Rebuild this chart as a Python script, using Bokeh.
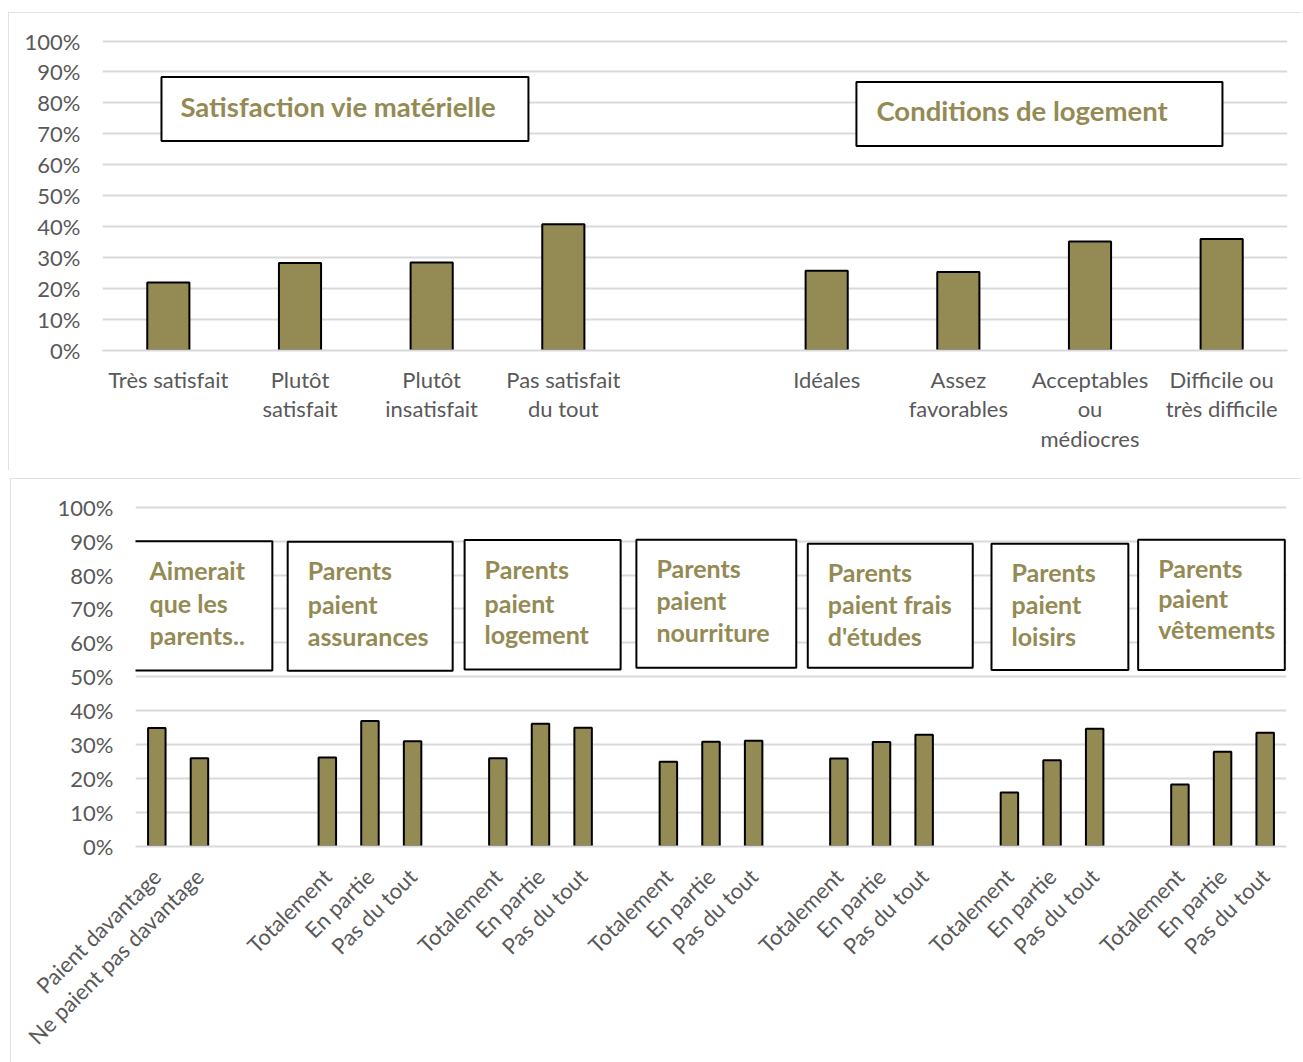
import math
from bokeh.plotting import figure
from bokeh.models import FixedTicker, NumeralTickFormatter, Range1d, BoxAnnotation, Label
from bokeh.embed import file_html
from bokeh.resources import INLINE

# ---------------- data ----------------
top_labels = ["Très satisfait", "Plutôt\nsatisfait", "Plutôt\ninsatisfait", "Pas satisfait\ndu tout", "",
              "Idéales", "Assez\nfavorables", "Acceptables\nou\nmédiocres", "Difficile ou\ntrès difficile"]
top_values = [0.22, 0.283, 0.284, 0.408, None, 0.258, 0.254, 0.352, 0.360]
top_titles = ["Satisfaction vie matérielle", "Conditions de logement"]

bottom_labels = ["Paient davantage", "Ne paient pas davantage", "", "",
                 "Totalement", "En partie", "Pas du tout", "",
                 "Totalement", "En partie", "Pas du tout", "",
                 "Totalement", "En partie", "Pas du tout", "",
                 "Totalement", "En partie", "Pas du tout", "",
                 "Totalement", "En partie", "Pas du tout", "",
                 "Totalement", "En partie", "Pas du tout"]
bottom_values = [0.349, 0.260, None, None,
                 0.262, 0.370, 0.310, None,
                 0.260, 0.362, 0.350, None,
                 0.250, 0.309, 0.312, None,
                 0.259, 0.308, 0.329, None,
                 0.159, 0.254, 0.347, None,
                 0.183, 0.279, 0.335]
bottom_titles = [["Aimerait", "que les", "parents.."],
                 ["Parents", "paient", "assurances"],
                 ["Parents", "paient", "logement"],
                 ["Parents", "paient", "nourriture"],
                 ["Parents", "paient frais", "d'études"],
                 ["Parents", "paient", "loisirs"],
                 ["Parents", "paient", "vêtements"]]

# ---------------- style ----------------
OLIVE = "#948A54"
GRID = "#d9d9d9"
TICK = "#595959"
FONT = "Lato"


def style(p, label_size, ylab_standoff):
    p.ygrid.grid_line_color = GRID
    p.ygrid.grid_line_width = 2
    p.xgrid.grid_line_color = None
    p.yaxis.ticker = FixedTicker(ticks=[i / 10 for i in range(11)])
    p.yaxis.formatter = NumeralTickFormatter(format="0%")
    p.yaxis.axis_line_color = None
    p.yaxis.major_tick_line_color = None
    p.yaxis.minor_tick_line_color = None
    p.yaxis.major_label_standoff = ylab_standoff
    p.xaxis.axis_line_color = GRID
    p.xaxis.axis_line_width = 2
    p.xaxis.major_tick_line_color = None
    p.xaxis.minor_tick_line_color = None
    for ax in (p.xaxis, p.yaxis):
        ax.major_label_text_font = FONT
        ax.major_label_text_font_size = label_size
        ax.major_label_text_color = TICK
    p.outline_line_color = None
    p.background_fill_color = "white"
    p.border_fill_color = "white"
    p.styles = {"outline": "2px solid " + GRID, "outline-offset": "-2px"}


# ---------------- top chart ----------------
p1 = figure(frame_width=1185, frame_height=311, min_border_left=94, min_border_right=14,
            min_border_top=27, min_border_bottom=120,
            x_range=Range1d(-0.5, len(top_labels) - 0.5), y_range=Range1d(0, 1.005),
            output_backend="svg", toolbar_location=None)
style(p1, "22px", 16)
tx = [i for i, v in enumerate(top_values) if v is not None]
ty = [v for v in top_values if v is not None]
p1.vbar(x=tx, top=ty, bottom=0, width=0.32, fill_color=OLIVE, line_color="black", line_width=2)
p1.xaxis.ticker = FixedTicker(ticks=tx)
p1.xaxis.major_label_overrides = {i: top_labels[i] for i in tx}
p1.xaxis.major_label_standoff = 9
p1.xaxis.major_label_text_line_height = 1.1
p1.margin = (12, 0, 0, 8)

top_boxes = [(-0.052, 2.735, 0.884, 0.677), (5.226, 8.006, 0.868, 0.661)]
top_text_pos = [(0.092, 0.790), (5.378, 0.774)]
for (l, r, t, b), (x, y), title in zip(top_boxes, top_text_pos, top_titles):
    p1.add_layout(BoxAnnotation(left=l, right=r, top=t, bottom=b, fill_color="white", fill_alpha=1,
                                line_color="black", line_width=2, line_alpha=1))
    p1.add_layout(Label(x=x, y=y, text=title, text_font=FONT, text_font_style="bold",
                        text_font_size="27.5px", text_color=OLIVE, text_baseline="middle", text_align="left"))

# ---------------- bottom chart ----------------
p2 = figure(frame_width=1151, frame_height=341, min_border_left=125, min_border_right=15,
            min_border_top=27, min_border_bottom=214,
            x_range=Range1d(-0.5, len(bottom_labels) - 0.5), y_range=Range1d(0, 1.005),
            output_backend="svg", toolbar_location=None)
style(p2, "22px", 16)
bx = [i for i, v in enumerate(bottom_values) if v is not None]
by = [v for v in bottom_values if v is not None]
p2.vbar(x=bx, top=by, bottom=0, width=0.41, fill_color=OLIVE, line_color="black", line_width=2)
p2.xaxis.ticker = FixedTicker(ticks=bx)
p2.xaxis.major_label_overrides = {i: bottom_labels[i] for i in bx}
p2.xaxis.major_label_orientation = math.pi / 4
p2.xaxis.major_label_standoff = 20
p2.margin = (8, 0, 0, 10)

bottom_boxes = [(-0.64, 2.71, 0.900, 0.519), (3.07, 6.94, 0.898, 0.518), (7.22, 10.88, 0.903, 0.522),
                (11.25, 15.0, 0.904, 0.527), (15.27, 19.14, 0.892, 0.527), (19.58, 22.79, 0.892, 0.520),
                (23.02, 26.46, 0.904, 0.520)]
line_ys = [[0.814, 0.719, 0.622], [0.814, 0.716, 0.619], [0.817, 0.719, 0.625], [0.822, 0.727, 0.631],
           [0.810, 0.716, 0.619], [0.810, 0.714, 0.619], [0.822, 0.733, 0.642]]
for (l, r, t, b), ys, lines in zip(bottom_boxes, line_ys, bottom_titles):
    p2.add_layout(BoxAnnotation(left=l, right=r, top=t, bottom=b, fill_color="white", fill_alpha=1,
                                line_color="black", line_width=2, line_alpha=1))
    x0 = l + 20 / 42.63
    for y, txt in zip(ys, lines):
        p2.add_layout(Label(x=x0, y=y, text=txt, text_font=FONT, text_font_style="bold",
                            text_font_size="25px", text_color=OLIVE, text_baseline="middle",
                            text_align="left"))

open("out.html", "w").write(file_html([p1, p2], INLINE))
